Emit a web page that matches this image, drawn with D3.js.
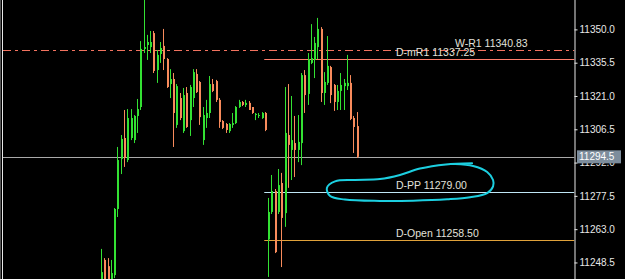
<!DOCTYPE html>
<html><head><meta charset="utf-8">
<script src="https://cdn.jsdelivr.net/npm/d3@7"></script>
<style>html,body{margin:0;padding:0;background:#000;overflow:hidden}</style>
</head><body><svg id="c" width="625" height="279"></svg>
<script>
// ---- data ----
const opens=[11238.7,11249.6,11246.9,11238.7,11243.0,11271.8,11293.6,11302.7,11293.1,11302.7,
11301.8,11312.3,11316.2,11341.5,11343.2,11342.3,11348.4,11332.3,11339.3,11342.8,
11337.1,11326.2,11328.4,11308.4,11320.1,11305.7,11322.3,11310.5,11320.1,11330.6,
11327.1,11301.8,11311.4,11313.6,11326.2,11327.5,11319.3,11310.1,11308.8,11305.7,
11308.4,11309.2,11316.2,11318.4,11317.1,11318.0,11316.2,11312.7,11312.3,11311.4,
11313.6,11258.5,11270.5,11279.6,11270.5,11283.1,11270.0,11304.0,11297.5,11300.5,
11297.5,11300.5,11330.1,11321.9,11335.4,11336.7,11342.3,11350.2,11322.3,11326.7,
11333.6,11325.8,11318.4,11323.2,11325.3,11325.3,11326.7,11311.4,11307.9];
const highs=[11254.4,11250.4,11250.4,11249.6,11272.2,11298.8,11304.0,11314.9,11315.3,11315.3,
11312.7,11319.7,11344.9,11365.0,11347.6,11349.3,11349.3,11341.0,11344.5,11350.2,
11337.5,11332.7,11331.0,11326.2,11322.3,11324.5,11324.9,11325.8,11332.7,11332.7,
11327.5,11316.2,11319.3,11329.7,11328.4,11328.0,11320.1,11310.5,11309.2,11309.2,
11313.6,11316.6,11319.3,11318.8,11319.3,11318.8,11316.2,11313.6,11313.6,11314.0,
11314.0,11276.6,11286.6,11280.5,11289.2,11287.5,11324.9,11326.2,11321.0,11312.3,
11312.7,11331.0,11332.3,11339.7,11352.3,11346.7,11355.0,11351.0,11331.4,11347.1,
11334.1,11326.2,11325.8,11331.0,11328.4,11338.9,11330.1,11312.3,11314.0];
const lows=[11236.5,11236.5,11236.5,11236.5,11241.7,11268.3,11287.0,11290.1,11292.2,11301.8,
11300.5,11304.9,11314.9,11339.7,11336.7,11339.7,11331.0,11326.7,11335.4,11332.3,
11324.5,11320.1,11298.8,11307.1,11310.5,11304.9,11307.1,11303.6,11316.2,11322.3,
11308.4,11299.7,11307.1,11311.4,11322.7,11318.4,11307.1,11306.6,11304.9,11304.9,
11307.1,11308.8,11315.8,11316.6,11316.2,11314.9,11313.2,11310.5,11311.4,11311.0,
11305.7,11242.2,11269.6,11252.6,11269.6,11246.5,11264.0,11281.0,11284.4,11285.7,
11292.2,11290.9,11313.6,11317.1,11334.9,11328.8,11337.1,11318.4,11317.1,11325.8,
11317.9,11314.5,11314.9,11314.9,11314.9,11323.6,11310.5,11296.2,11294.0];
const closes=[11244.3,11238.7,11240.9,11243.9,11271.8,11293.1,11302.3,11294.0,11311.4,11311.4,
11312.3,11315.3,11341.5,11342.3,11344.5,11344.5,11331.9,11338.9,11341.9,11337.1,
11324.9,11328.4,11313.6,11325.3,11311.4,11321.4,11307.5,11324.9,11331.4,11322.7,
11311.8,11312.7,11313.6,11326.2,11323.2,11319.3,11309.7,11307.1,11306.2,11308.8,
11309.2,11316.2,11318.4,11317.1,11318.0,11314.9,11313.6,11313.2,11312.7,11313.6,
11306.2,11270.5,11279.6,11253.0,11282.2,11267.9,11304.9,11299.7,11301.8,11297.5,
11301.0,11330.1,11321.4,11337.1,11337.5,11344.1,11350.2,11322.3,11327.1,11334.1,
11321.4,11318.4,11323.2,11325.8,11326.7,11326.7,11311.0,11307.5,11294.5];
const barIndex=d3.range(opens.length);
const tickValues=[11350.0,11335.5,11321.0,11306.5,11292.0,11277.5,11263.0,11248.5];
const levelNames=["W-R1","D-mR1","D-PP","D-Open"];
const levelValues=[11340.83,11337.25,11279.00,11258.50];
const lastPrice=11294.5;
// hand-drawn annotation around D-PP label: [bar index, price]
const annoIdx=[113.2,105.2,97.3,91.2,85.1,77.5,71.4,68.9,69.9,74.4,85.1,95.2,105.6,112.6,117.8,119.6,119.6,117.8,113.5,108.0];
const annoPrice=[11291.7,11291.2,11289.4,11286.6,11284.8,11284.4,11283.8,11280.9,11277.4,11275.9,11275.3,11275.4,11276.0,11276.9,11278.7,11281.6,11284.4,11287.9,11290.5,11291.4];

// ---- layout ----
const W=625,H=279,axisX=574.5;
const svg=d3.select("#c");
svg.append("rect").attr("width",W).attr("height",H).attr("fill","#000");
const x=d3.scaleLinear().domain([0,78]).range([101,356.7]);
const y=d3.scaleLinear().domain([11241.3,11362.8]).range([279,0]);
const font="'Liberation Sans', Arial, sans-serif";

svg.append("clipPath").attr("id","plot").append("rect").attr("x",3).attr("y",0).attr("width",axisX-3).attr("height",H);
const g=svg.append("g").attr("clip-path","url(#plot)");

// left border
svg.append("line").attr("x1",0.5).attr("x2",0.5).attr("y1",0).attr("y2",H).attr("stroke","#555");
svg.append("line").attr("x1",2.5).attr("x2",2.5).attr("y1",0).attr("y2",H).attr("stroke","#e8e8e8");

// level lines
const levelStyle={
 "W-R1":{color:"#f2725f",dash:"8,4,3,4",from:3,labelIdx:108.0},
 "D-mR1":{color:"#ff7f6c",dash:null,from:x(49.8),labelIdx:90.0},
 "D-PP":{color:"#bfe6f5",dash:null,from:x(49.8),labelIdx:90.0},
 "D-Open":{color:"#e0a23a",dash:null,from:x(49.8),labelIdx:90.0}
};
// last price line
g.append("line").attr("x1",3).attr("x2",axisX).attr("y1",Math.round(y(lastPrice))+0.5).attr("y2",Math.round(y(lastPrice))+0.5)
 .attr("stroke","#a9a9a9").attr("stroke-width",1);
levelNames.forEach((n,k)=>{
 const s=levelStyle[n], yy=Math.round(y(levelValues[k]))+0.5;
 g.append("line").attr("x1",s.from).attr("x2",axisX).attr("y1",yy).attr("y2",yy)
  .attr("stroke",s.color).attr("stroke-width",1).attr("stroke-dasharray",s.dash);
});

// candles (snapped to whole pixels)
const up="#33e133", down="#f88b5c";
const px=i=>Math.round(x(i));
const c=g.selectAll("g.c").data(barIndex).join("g");
c.append("line").attr("x1",i=>px(i)+0.5).attr("x2",i=>px(i)+0.5).attr("y1",i=>y(highs[i])).attr("y2",i=>y(lows[i]))
 .attr("stroke",i=>closes[i]>=opens[i]?up:down).attr("stroke-width",1);
c.append("rect").attr("x",i=>px(i)).attr("width",2)
 .attr("y",i=>y(Math.max(opens[i],closes[i])))
 .attr("height",i=>Math.max(1,Math.abs(y(opens[i])-y(closes[i]))))
 .attr("fill",i=>closes[i]>=opens[i]?up:down);

// level labels
levelNames.forEach((n,k)=>{
 const s=levelStyle[n];
 g.append("text").attr("x",x(s.labelIdx)).attr("y",Math.round(y(levelValues[k]))-3)
  .attr("font-family",font).attr("font-size",10.5).attr("fill","#e2e2dc")
  .text(n+" "+levelValues[k].toFixed(2));
});

// annotation
const pts=annoIdx.map((v,i)=>[x(v),y(annoPrice[i])]);
g.append("path").attr("d",d3.line().curve(d3.curveCatmullRom)(pts))
 .attr("fill","none").attr("stroke","#1ccfe0").attr("stroke-width",2).attr("stroke-linecap","round");

// axis
const ax=svg.append("g").attr("transform",`translate(${axisX},0)`)
 .call(d3.axisRight(y).tickValues(tickValues).tickFormat(d3.format(".1f")).tickSize(3).tickPadding(2));
ax.select(".domain").attr("stroke","#e8e8e8").attr("d",`M0.5,0V${H}`);
ax.selectAll(".tick line").attr("stroke","#e8e8e8");
ax.selectAll(".tick text").attr("fill","#e8e8e8").attr("font-family",font).attr("font-size",10);

// last price tag
const ly=y(lastPrice);
svg.append("rect").attr("x",577).attr("y",ly-6.5).attr("width",44).attr("height",13).attr("fill","#7d8d9c");
svg.append("text").attr("x",579).attr("y",ly).attr("dy","0.35em").attr("font-family",font).attr("font-size",10)
 .attr("fill","#ffffff").text(lastPrice.toFixed(1));
</script></body></html>
